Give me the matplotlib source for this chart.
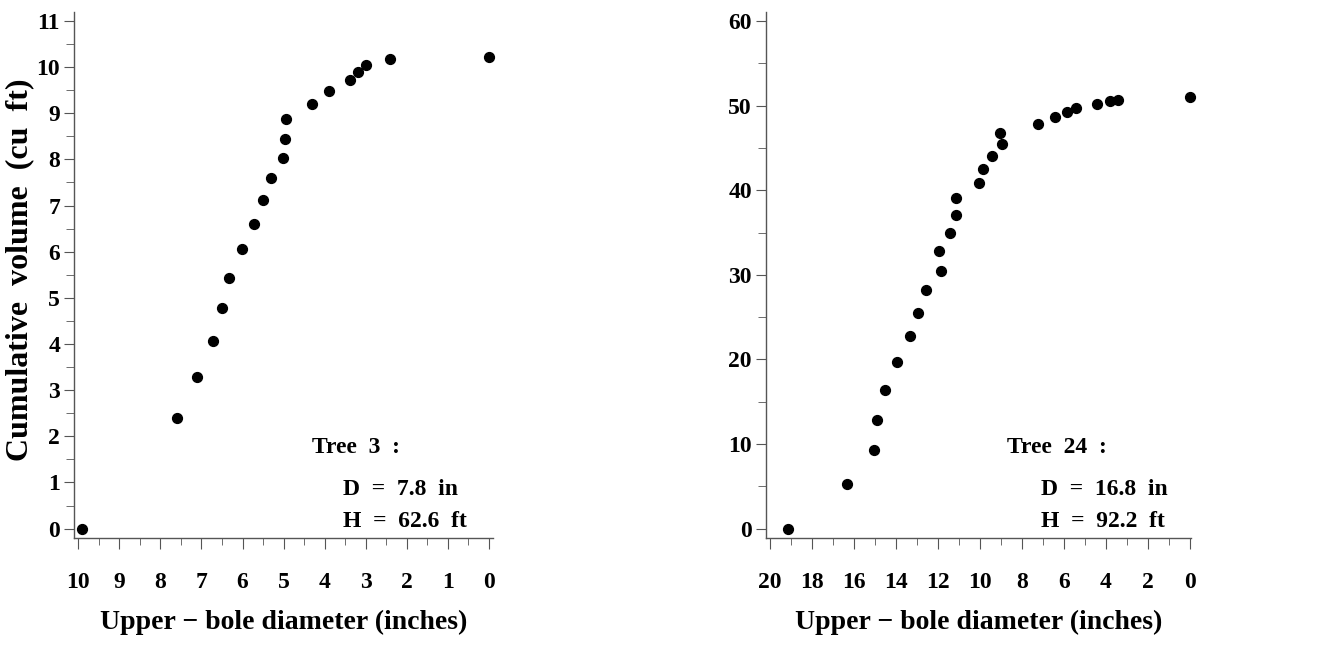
import matplotlib
matplotlib.use("Agg")
import matplotlib.pyplot as plt
from matplotlib.ticker import MultipleLocator

# Tree 3
tree3_diam = [0.0, 2.41, 3.00, 3.20, 3.39, 3.90, 4.31, 4.94, 4.97, 5.01, 5.30, 5.51,
              5.71, 6.01, 6.32, 6.51, 6.71, 7.11, 7.60, 9.90]
tree3_vol = [10.22, 10.17, 10.04, 9.89, 9.71, 9.49, 9.21, 8.87, 8.45, 8.04, 7.60, 7.13,
             6.61, 6.05, 5.44, 4.78, 4.07, 3.29, 2.40, 0.0]

# Tree 24
tree24_diam = [0.0, 3.41, 3.83, 4.43, 5.43, 5.84, 6.43, 7.24, 8.95, 9.03, 9.43, 9.84,
               10.05, 11.13, 11.14, 11.44, 11.97, 11.84, 12.56, 12.95, 13.35, 13.94,
               14.52, 14.92, 15.03, 16.33, 19.13]
tree24_vol = [51.03, 50.67, 50.52, 50.20, 49.77, 49.25, 48.63, 47.87, 45.43, 46.81, 44.09,
              42.55, 40.90, 39.09, 37.04, 34.99, 32.79, 30.50, 28.18, 25.53, 22.78, 19.70,
              16.39, 12.88, 9.26, 5.24, 0.0]

xlabel = "Upper \u2212 bole diameter (inches)"
ylabel = "Cumulative  volume  (cu  ft)"
tree3_text = ["Tree  3  :", "D  =  7.8  in", "H  =  62.6  ft"]
tree24_text = ["Tree  24  :", "D  =  16.8  in", "H  =  92.2  ft"]

plt.rcParams['font.family'] = ['Liberation Serif', 'DejaVu Serif']
plt.rcParams['font.weight'] = 'bold'

fig = plt.figure(figsize=(13.28, 6.49), dpi=100)
ax1 = fig.add_axes([0.0557, 0.1706, 0.3153, 0.8114])
ax2 = fig.add_axes([0.5766, 0.1706, 0.3205, 0.8114])

tick_fs = 17
label_fs = 20
ann_fs = 17

def style(ax):
    for s in ['top', 'right']:
        ax.spines[s].set_visible(False)
    for s in ['left', 'bottom']:
        ax.spines[s].set_color('#555555')
        ax.spines[s].set_linewidth(1.0)
    ax.tick_params(axis='both', which='both', direction='out', color='#555555')
    ax.tick_params(axis='x', which='major', length=8, pad=16, labelsize=tick_fs)
    ax.tick_params(axis='x', which='minor', length=5)
    ax.tick_params(axis='y', which='major', length=7, pad=3, labelsize=tick_fs)
    ax.tick_params(axis='y', which='minor', length=6)
    for lab in ax.get_xticklabels() + ax.get_yticklabels():
        lab.set_fontweight('bold')

# Left panel
ax1.scatter(tree3_diam, tree3_vol, s=50, color='black', zorder=3, clip_on=False)
ax1.set_xlim(10.105, -0.09)
ax1.set_ylim(-0.21, 11.2)
ax1.xaxis.set_major_locator(MultipleLocator(1))
ax1.xaxis.set_minor_locator(MultipleLocator(0.5))
ax1.yaxis.set_major_locator(MultipleLocator(1))
ax1.yaxis.set_minor_locator(MultipleLocator(0.5))
style(ax1)
ax1.set_xlabel(xlabel, fontsize=label_fs, fontweight='bold')
ax1.xaxis.set_label_coords(0.5, -0.136)
ax1.set_ylabel(ylabel, fontsize=23, fontweight='bold')
ax1.yaxis.set_label_coords(-0.129, 0.51)
ax1.yaxis.label.set_va('center')
ax1.text(4.31, 1.64, tree3_text[0], fontsize=ann_fs, fontweight='bold', ha='left', va='baseline')
ax1.text(3.55, 0.73, tree3_text[1], fontsize=ann_fs, fontweight='bold', ha='left', va='baseline')
ax1.text(3.55, 0.04, tree3_text[2], fontsize=ann_fs, fontweight='bold', ha='left', va='baseline')

# Right panel
ax2.scatter(tree24_diam, tree24_vol, s=50, color='black', zorder=3, clip_on=False)
ax2.set_xlim(20.2, -0.06)
ax2.set_ylim(-1.13, 61.1)
ax2.xaxis.set_major_locator(MultipleLocator(2))
ax2.xaxis.set_minor_locator(MultipleLocator(1))
ax2.yaxis.set_major_locator(MultipleLocator(10))
ax2.yaxis.set_minor_locator(MultipleLocator(5))
style(ax2)
ax2.set_xlabel(xlabel, fontsize=label_fs, fontweight='bold')
ax2.xaxis.set_label_coords(0.501, -0.136)
ax2.text(8.73, 8.91, tree24_text[0], fontsize=ann_fs, fontweight='bold', ha='left', va='baseline')
ax2.text(7.11, 3.98, tree24_text[1], fontsize=ann_fs, fontweight='bold', ha='left', va='baseline')
ax2.text(7.11, 0.24, tree24_text[2], fontsize=ann_fs, fontweight='bold', ha='left', va='baseline')

fig.savefig("out.png", dpi=100, facecolor='white')
